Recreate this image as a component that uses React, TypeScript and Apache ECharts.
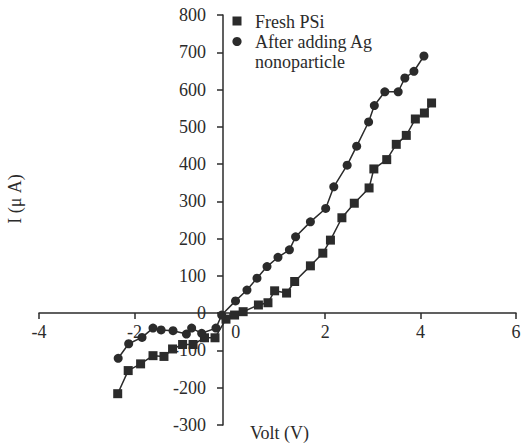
import React, { useEffect, useRef } from "react";
import * as echarts from "echarts";

const freshX = [-2.35, -2.13, -1.87, -1.61, -1.38, -1.2, -0.99, -0.77, -0.53, -0.31, -0.08, 0.1, 0.28, 0.6, 0.8, 0.94, 1.19, 1.36, 1.69, 1.95, 2.11, 2.35, 2.61, 2.92, 3.02, 3.29, 3.49, 3.7, 3.89, 4.08, 4.23];
const freshY = [-216, -154, -136, -114, -116, -96, -84, -84, -66, -66, -16, -5, 4, 22, 28, 60, 54, 85, 127, 161, 196, 256, 295, 336, 387, 412, 453, 477, 521, 537, 564];
const agX = [-2.34, -2.12, -1.84, -1.61, -1.44, -1.19, -0.91, -0.8, -0.59, -0.29, -0.17, 0.12, 0.36, 0.57, 0.78, 1.01, 1.25, 1.38, 1.69, 2.01, 2.18, 2.46, 2.66, 2.91, 3.03, 3.25, 3.53, 3.67, 3.86, 4.07];
const agY = [-121, -82, -65, -40, -45, -47, -56, -40, -54, -40, -5, 33, 62, 94, 125, 150, 170, 205, 245, 281, 339, 397, 448, 513, 557, 594, 594, 631, 649, 690];

const seriesNames = ["Fresh PSi", "After adding Ag nonoparticle"];
const xAxisTitle = "Volt (V)";
const yAxisTitle = "I (μ A)";

const INK = "#2b2b2b";
const FAMILY = "Liberation Serif";
const FS = 18;
const FONT = `${FS}px Liberation Serif`;

export default function App() {
  const ref = useRef<HTMLDivElement>(null);
  useEffect(() => {
    if (!ref.current) return;
    const chart = echarts.init(ref.current, null, { renderer: "svg" });
    const zip = (xs: number[], ys: number[]) => xs.map((x, i) => [x, ys[i]]);
    chart.setOption({
      animation: false,
      backgroundColor: "#ffffff",
      textStyle: { fontFamily: FAMILY },
      grid: { left: 39, right: 5, top: 15, bottom: 18, containLabel: false, outerBoundsMode: "none" },
      xAxis: {
        type: "value",
        min: -4,
        max: 6,
        interval: 2,
        position: "bottom",
        offset: -112,
        name: xAxisTitle,
        nameLocation: "middle",
        nameGap: 111,
        nameTextStyle: { color: INK, fontSize: FS, fontFamily: FAMILY, padding: [0, 0, 0, 4] },
        axisLine: { show: true, onZero: false, lineStyle: { color: INK, width: 1.5 } },
        axisTick: { show: true, inside: false, length: 6, lineStyle: { color: INK, width: 1.5 } },
        axisLabel: {
          color: INK,
          fontSize: FS,
          fontFamily: FAMILY,
          margin: 10,
          formatter: (v: number) => (v === 0 ? "{z|0}" : String(v)),
          rich: { z: { padding: [0, 0, 0, 12], fontSize: FS, fontFamily: FAMILY, color: INK } },
        },
        splitLine: { show: false },
      },
      yAxis: {
        type: "value",
        min: -300,
        max: 800,
        interval: 100,
        position: "left",
        offset: -184,
        axisLine: { show: true, onZero: false, lineStyle: { color: INK, width: 1.5 } },
        axisTick: { show: true, inside: false, length: 6, lineStyle: { color: INK, width: 1.5 } },
        axisLabel: { color: INK, fontSize: FS, fontFamily: FAMILY, margin: 17 },
        splitLine: { show: false },
      },
      series: [
        {
          name: seriesNames[0],
          type: "line",
          data: zip(freshX, freshY),
          symbol: "rect",
          symbolSize: 9,
          itemStyle: { color: INK },
          lineStyle: { color: INK, width: 1.5 },
        },
        {
          name: seriesNames[1],
          type: "line",
          data: zip(agX, agY),
          symbol: "circle",
          symbolSize: 9,
          itemStyle: { color: INK },
          lineStyle: { color: INK, width: 1.5 },
        },
      ],
      graphic: [
        { type: "rect", shape: { x: 232.5, y: 16.5, width: 9, height: 9 }, style: { fill: INK } },
        { type: "text", x: 255, y: 22, style: { text: seriesNames[0], fill: INK, font: FONT, verticalAlign: "middle" } },
        { type: "circle", shape: { cx: 237, cy: 41.5, r: 4.6 }, style: { fill: INK } },
        { type: "text", x: 255, y: 41.5, style: { text: "After adding Ag", fill: INK, font: FONT, verticalAlign: "middle" } },
        { type: "text", x: 255, y: 62, style: { text: "nonoparticle", fill: INK, font: FONT, verticalAlign: "middle" } },
        {
          type: "text",
          x: 15,
          y: 199,
          rotation: Math.PI / 2,
          style: { text: yAxisTitle, fill: INK, font: FONT, align: "center", verticalAlign: "middle" },
        },
      ],
    });
    return () => chart.dispose();
  }, []);
  return <div ref={ref} style={{ width: 521, height: 443, position: "absolute", left: 0, top: 0 }} />;
}
